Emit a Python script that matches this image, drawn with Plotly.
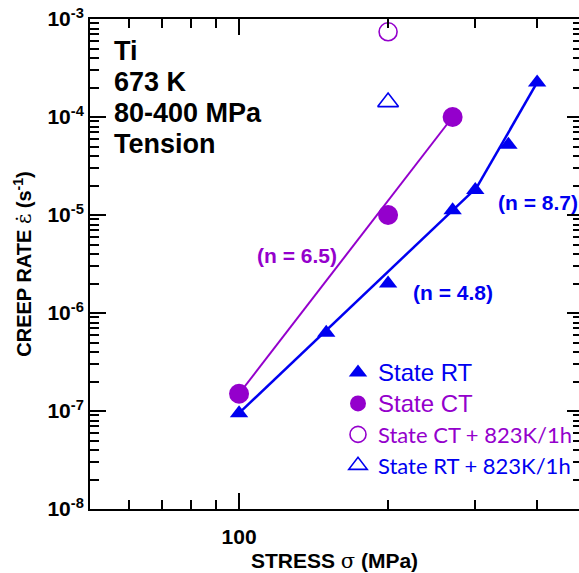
import plotly.graph_objects as go

# ---------------- data ----------------
rt_x = [100, 150, 200, 270, 300, 350, 400]
rt_y = [0.95e-7, 6.3e-7, 2.0e-6, 1.12e-5, 1.8e-5, 5.2e-5, 2.25e-4]
ct_x = [100, 200, 270]
ct_y = [1.5e-7, 1.0e-5, 1.0e-4]
ct_ann_x = [200]
ct_ann_y = [7.4e-4]
rt_ann_x = [200]
rt_ann_y = [1.42e-4]
fit_ct_x = [100, 270]
fit_ct_y = [1.5e-7, 1.0e-4]
fit_rt1_x = [100, 300]
fit_rt1_y = [0.95e-7, 1.85e-5]
fit_rt2_x = [300, 400]
fit_rt2_y = [1.8e-5, 2.25e-4]
y_tick_vals = [1e-8, 1e-7, 1e-6, 1e-5, 1e-4, 1e-3]
y_tick_text = ["<b>10<sup>-8</sup></b>", "<b>10<sup>-7</sup></b>", "<b>10<sup>-6</sup></b>",
               "<b>10<sup>-5</sup></b>", "<b>10<sup>-4</sup></b>", "<b>10<sup>-3</sup></b>"]
x_tick_vals = [100]
x_tick_text = ["<b>100</b>"]
x_minor_vals = [60, 70, 80, 90, 200, 300, 400]
y_minor_vals = [k * 10.0 ** e for e in range(-8, -3) for k in range(2, 10)]

BLUE = "#0000F0"
PURPLE = "#9400CC"
FONT = "Liberation Sans, Arial, sans-serif"

W, H = 579, 573
ML, MR, MT, MB = 90, 0, 19, 64
PW, PH = W - ML - MR, H - MT - MB


def px(x):
    return (x - ML) / PW


def py(y):
    return (H - MB - y) / PH


fig = go.Figure()

# fit lines
fig.add_trace(go.Scatter(x=fit_ct_x, y=fit_ct_y, mode="lines",
                         line=dict(color=PURPLE, width=2), showlegend=False, hoverinfo="skip"))
fig.add_trace(go.Scatter(x=fit_rt1_x, y=fit_rt1_y, mode="lines",
                         line=dict(color=BLUE, width=2.5), showlegend=False, hoverinfo="skip"))
fig.add_trace(go.Scatter(x=fit_rt2_x, y=fit_rt2_y, mode="lines",
                         line=dict(color=BLUE, width=2.5), showlegend=False, hoverinfo="skip"))

# markers
fig.add_trace(go.Scatter(x=rt_x, y=rt_y, mode="markers",
                         marker=dict(symbol="triangle-up", size=16, color=BLUE),
                         name=f"<span style='color:{BLUE};font-size:24px'>State RT</span>"))
fig.add_trace(go.Scatter(x=ct_x, y=ct_y, mode="markers",
                         marker=dict(symbol="circle", size=20, color=PURPLE),
                         name=f"<span style='color:{PURPLE};font-size:24px'>State CT</span>"))
fig.add_trace(go.Scatter(x=ct_ann_x, y=ct_ann_y, mode="markers",
                         marker=dict(symbol="circle-open", size=18, color=PURPLE, line=dict(width=1.6)),
                         name=f"<span style='color:{PURPLE};font-family:Lato;font-size:22px'>State CT + 823K/1h</span>"))
fig.add_trace(go.Scatter(x=rt_ann_x, y=rt_ann_y, mode="markers",
                         marker=dict(symbol="triangle-up-open", size=18, color=BLUE, line=dict(width=1.6)),
                         name=f"<span style='color:{BLUE};font-family:Lato;font-size:22px'>State RT + 823K/1h</span>"))

# right-side mirror ticks without a line
fig.add_trace(go.Scatter(x=[100], y=[1e-5], yaxis="y2", mode="markers",
                         marker=dict(opacity=0), showlegend=False, hoverinfo="skip"))

# text block
block = ["Ti", "673 K", "80-400 MPa", "Tension"]
block_y = [51, 82, 113, 144]
for t, yy in zip(block, block_y):
    fig.add_annotation(text=f"<b>{t}</b>", xref="paper", yref="paper", x=px(112), y=py(yy),
                       xanchor="left", yanchor="middle", showarrow=False,
                       font=dict(family=FONT, size=27, color="black"))

n_labels = ["(n = 6.5)", "(n = 4.8)", "(n = 8.7)"]
n_pos = [(297, 255), (453, 292), (538, 203)]
n_cols = [PURPLE, BLUE, BLUE]
for t, (xx, yy), c in zip(n_labels, n_pos, n_cols):
    fig.add_annotation(text=f"<b>{t}</b>", xref="paper", yref="paper", x=px(xx), y=py(yy),
                       xanchor="center", yanchor="middle", showarrow=False,
                       font=dict(family=FONT, size=21, color=c))

fig.update_layout(
    width=W, height=H,
    margin=dict(l=ML, r=MR, t=MT, b=MB),
    paper_bgcolor="white", plot_bgcolor="white",
    font=dict(family=FONT, color="black"),
    showlegend=True,
    legend=dict(x=px(338), y=py(352), xanchor="left", yanchor="top",
                font=dict(family=FONT, size=21.5), bgcolor="rgba(0,0,0,0)",
                itemsizing="trace", tracegroupgap=0),
    xaxis=dict(type="log", range=[1.69897, 2.6866],
               tickmode="array", tickvals=x_tick_vals, ticktext=x_tick_text,
               ticks="inside", ticklen=16, tickwidth=2, tickcolor="black",
               showline=True, linewidth=2, linecolor="black", mirror="ticks",
               showgrid=False, zeroline=False,
               tickfont=dict(family=FONT, size=21, color="black"),
               ticklabelstandoff=8,
               minor=dict(tickmode="array", tickvals=x_minor_vals, ticks="inside",
                          ticklen=9, tickwidth=2, tickcolor="black", showgrid=False),
               title=dict(text="<b>STRESS</b> <span style='font-family:DejaVu Serif'>σ</span> <b>(MPa)</b>",
                          font=dict(family=FONT, size=21, color="black"), standoff=6)),
    yaxis=dict(type="log", range=[-8, -3],
               tickmode="array", tickvals=y_tick_vals, ticktext=y_tick_text,
               ticks="inside", ticklen=16, tickwidth=2, tickcolor="black",
               showline=True, linewidth=2, linecolor="black", mirror=False,
               showgrid=False, zeroline=False,
               tickfont=dict(family=FONT, size=21, color="black"),
               minor=dict(tickmode="array", tickvals=y_minor_vals, ticks="inside",
                          ticklen=9, tickwidth=2, tickcolor="black", showgrid=False),
               title=dict(text="<b>CREEP RATE </b><span style='font-family:DejaVu Serif'>ε̇</span><b> (s<sup>-1</sup>)</b>",
                          font=dict(family=FONT, size=20, color="black"), standoff=10)),
    yaxis2=dict(type="log", range=[-8, -3], overlaying="y", side="right",
                tickmode="array", tickvals=y_tick_vals, showticklabels=False,
                ticks="inside", ticklen=12, tickwidth=2, tickcolor="black",
                showline=False, showgrid=False, zeroline=False,
                minor=dict(tickmode="array", tickvals=y_minor_vals, ticks="inside",
                           ticklen=6, tickwidth=2, tickcolor="black", showgrid=False)),
)

fig.write_html("out.html", config={"displayModeBar": False},
               post_script="document.body.style.margin='0px';")
